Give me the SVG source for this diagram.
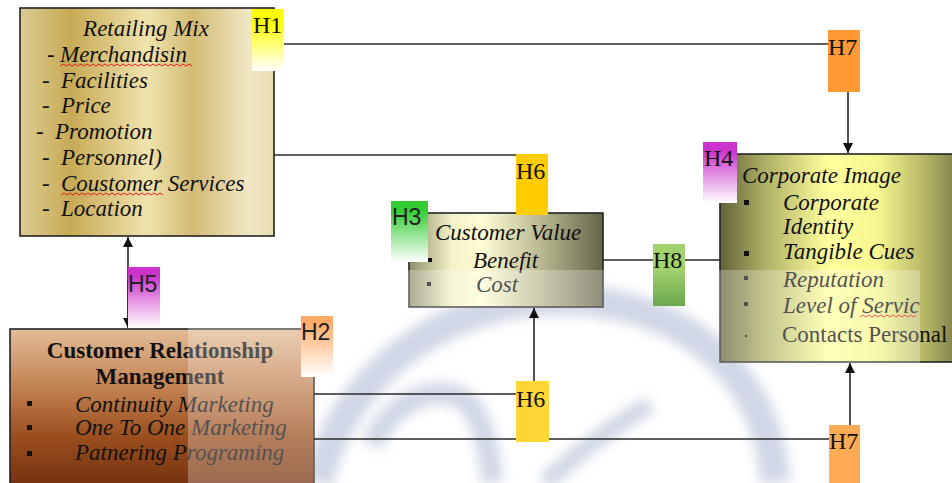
<svg xmlns="http://www.w3.org/2000/svg" width="952" height="483" viewBox="0 0 952 483">
<defs>
<style>
.bx{stroke:#222;stroke-width:1.6}
.t{font-family:"Liberation Serif","Times New Roman",serif;font-size:23px;fill:#111}
.i{font-style:italic}
.b{font-weight:bold}
.hs{font-family:"Liberation Serif","Times New Roman",serif;font-size:24px;fill:#111}
.hn{font-family:"Liberation Sans",Arial,sans-serif;font-size:23px;fill:#222}
.c{fill:none;stroke:#2a2a2a;stroke-width:1.6}
.sq{fill:none;stroke:#e02020;stroke-width:1}
.bu{fill:#111}
</style>
<linearGradient id="gGold" x1="0" y1="0" x2="1" y2="0">
<stop offset="0" stop-color="#dccb92"/>
<stop offset="0.2" stop-color="#c7aa55"/>
<stop offset="0.5" stop-color="#f0e3ae"/>
<stop offset="0.68" stop-color="#d3bb74"/>
<stop offset="0.9" stop-color="#f1e7c5"/>
<stop offset="1" stop-color="#e8dcb0"/>
</linearGradient>
<linearGradient id="gCV" x1="0" y1="0" x2="1" y2="0">
<stop offset="0" stop-color="#8e8e6c"/>
<stop offset="0.22" stop-color="#f4f2c6"/>
<stop offset="0.38" stop-color="#fffcd6"/>
<stop offset="0.68" stop-color="#b9b891"/>
<stop offset="1" stop-color="#65654a"/>
</linearGradient>
<linearGradient id="gCI" x1="720" y1="0" x2="960" y2="0" gradientUnits="userSpaceOnUse">
<stop offset="0" stop-color="#62623a"/>
<stop offset="0.18" stop-color="#acac64"/>
<stop offset="0.45" stop-color="#ffff9e"/>
<stop offset="0.66" stop-color="#f6f690"/>
<stop offset="0.86" stop-color="#b4b466"/>
<stop offset="1" stop-color="#7a7a48"/>
</linearGradient>
<linearGradient id="gCRM" x1="0" y1="329" x2="0" y2="483" gradientUnits="userSpaceOnUse">
<stop offset="0" stop-color="#e2bc96"/>
<stop offset="0.4" stop-color="#c07e4e"/>
<stop offset="0.7" stop-color="#9a4e1e"/>
<stop offset="1" stop-color="#783410"/>
</linearGradient>
<linearGradient id="fY" x1="0" y1="0" x2="0" y2="1"><stop offset="0.2" stop-color="#ffff00"/><stop offset="1" stop-color="#ffffff"/></linearGradient>
<linearGradient id="fG" x1="0" y1="0" x2="0" y2="1"><stop offset="0.15" stop-color="#33cc33"/><stop offset="1" stop-color="#ffffff"/></linearGradient>
<linearGradient id="fM" x1="0" y1="0" x2="0" y2="1"><stop offset="0.15" stop-color="#cc33cc"/><stop offset="1" stop-color="#ffffff"/></linearGradient>
<linearGradient id="fO" x1="0" y1="0" x2="0" y2="1"><stop offset="0.1" stop-color="#ffaa66"/><stop offset="1" stop-color="#ffffff"/></linearGradient>
<linearGradient id="fL" x1="0" y1="0" x2="0" y2="1"><stop offset="0.4" stop-color="#a3d16e"/><stop offset="1" stop-color="#6aa74c"/></linearGradient>
<filter id="blur" x="-20%" y="-20%" width="140%" height="140%"><feGaussianBlur stdDeviation="6"/></filter>
<marker id="ah" viewBox="0 0 10 10" refX="10" refY="5" markerWidth="10" markerHeight="10" markerUnits="userSpaceOnUse" orient="auto"><path d="M0,0 L10,5 L0,10 Z" fill="#111"/></marker>
</defs>
<rect width="952" height="483" fill="#ffffff"/>
<g id="watermark" filter="url(#blur)" fill="none" stroke="#aab6d2" opacity="0.75">
<path d="M318,483 C340,380 440,300 560,300 C690,300 770,380 775,483" stroke-width="30"/>
<path d="M372,445 C395,395 445,380 470,405 C485,425 490,455 492,483" stroke-width="22"/>
<path d="M545,483 C580,450 615,425 650,405" stroke-width="18"/>
</g>
<g id="retailing-mix">
<rect class="bx" x="20" y="8" width="254" height="228" fill="url(#gGold)"/>
<text class="t i" x="146" y="36" text-anchor="middle">Retailing Mix</text>
<text class="t i" x="47" y="62">-</text><text class="t i" x="60" y="62">Merchandisin</text>
<text class="t i" x="42" y="88">-</text><text class="t i" x="61" y="88">Facilities</text>
<text class="t i" x="42" y="113">-</text><text class="t i" x="61" y="113">Price</text>
<text class="t i" x="36" y="139">-</text><text class="t i" x="55" y="139">Promotion</text>
<text class="t i" x="42" y="165">-</text><text class="t i" x="61" y="165">Personnel)</text>
<text class="t i" x="42" y="191">-</text><text class="t i" x="61" y="191">Coustomer Services</text>
<text class="t i" x="42" y="216">-</text><text class="t i" x="61" y="216">Location</text>
<path class="sq" d="M60,66 l3,-2 l3,2 l3,-2 l3,2 l3,-2 l3,2 l3,-2 l3,2 l3,-2 l3,2 l3,-2 l3,2 l3,-2 l3,2 l3,-2 l3,2 l3,-2 l3,2 l3,-2 l3,2 l3,-2 l3,2 l3,-2 l3,2 l3,-2 l3,2 l3,-2 l3,2 l3,-2 l3,2 l3,-2 l3,2 l3,-2 l3,2 l3,-2 l3,2 l3,-2 l3,2 l3,-2 l3,2 l3,-2 l3,2 l3,-2 l3,2"/>
<path class="sq" d="M61,195 l3,-2 l3,2 l3,-2 l3,2 l3,-2 l3,2 l3,-2 l3,2 l3,-2 l3,2 l3,-2 l3,2 l3,-2 l3,2 l3,-2 l3,2 l3,-2 l3,2 l3,-2 l3,2 l3,-2 l3,2 l3,-2 l3,2 l3,-2 l3,2 l3,-2 l3,2 l3,-2 l3,2 l3,-2 l3,2 l3,-2 l3,2"/>
</g>
<g id="customer-value">
<rect class="bx" x="409" y="213" width="194" height="94" fill="url(#gCV)"/>
<text class="t i" x="435" y="240">Customer Value</text>
<rect class="bu" x="428" y="258" width="4" height="4"/>
<text class="t i" x="473" y="268">Benefit</text>
<rect class="bu" x="427" y="282" width="4" height="4"/>
<text class="t i" x="476" y="292">Cost</text>
</g>
<g id="corporate-image">
<rect class="bx" x="720" y="154" width="240" height="208" fill="url(#gCI)"/>
<text class="t i" x="742" y="183">Corporate Image</text>
<rect class="bu" x="744" y="200" width="5" height="5"/>
<text class="t i" x="783" y="210">Corporate</text>
<text class="t i" x="783" y="234">Identity</text>
<rect class="bu" x="744" y="251" width="5" height="5"/>
<text class="t i" x="783" y="259">Tangible Cues</text>
<rect class="bu" x="744" y="276" width="4" height="4"/>
<text class="t i" x="783" y="287">Reputation</text>
<rect class="bu" x="744" y="302" width="4" height="4"/>
<text class="t i" x="783" y="313">Level of Servic</text>
<path class="sq" d="M860,317 l3,-2 l3,2 l3,-2 l3,2 l3,-2 l3,2 l3,-2 l3,2 l3,-2 l3,2 l3,-2 l3,2 l3,-2 l3,2 l3,-2 l3,2 l3,-2 l3,2 l2,-2"/>
<rect class="bu" x="745" y="335" width="2" height="2"/>
<text class="t" x="782" y="342">Contacts Personal</text>
</g>
<g id="crm">
<rect class="bx" x="10" y="329" width="304" height="160" fill="url(#gCRM)"/>
<text class="t b" x="160" y="358" text-anchor="middle">Customer Relationship</text>
<text class="t b" x="160" y="384" text-anchor="middle">Management</text>
<rect class="bu" x="27" y="401" width="5" height="5"/>
<text class="t i" x="75" y="412">Continuity Marketing</text>
<rect class="bu" x="27" y="425" width="5" height="5"/>
<text class="t i" x="75" y="435">One To One Marketing</text>
<rect class="bu" x="27" y="451" width="5" height="5"/>
<text class="t i" x="75" y="460">Patnering Programing</text>
</g>
<rect id="overlay" x="188" y="270" width="732" height="213" fill="#ffffff" opacity="0.27"/>
<g id="connectors">
<path class="c" d="M284,44 H848 V153" marker-end="url(#ah)"/>
<path class="c" d="M274,155 H516"/>
<path class="c" d="M603,260 H720"/>
<path class="c" d="M128,318 V237" marker-end="url(#ah)"/>
<path class="c" d="M128,280 V328" marker-end="url(#ah)"/>
<path class="c" d="M314,394 H534 V308" marker-end="url(#ah)"/>
<path class="c" d="M314,439 H850 V363" marker-end="url(#ah)"/>
</g>
<g id="H1"><rect x="252" y="9" width="32" height="62" fill="url(#fY)"/><text class="hs" x="253" y="33">H1</text></g>
<g id="H7a"><rect x="828" y="30" width="32" height="62" fill="#ff9933"/><text class="hs" x="828" y="55">H7</text></g>
<g id="H6a"><rect x="516" y="154" width="32" height="61" fill="#ffcc00"/><text class="hs" x="516" y="179">H6</text></g>
<g id="H3"><rect x="391" y="201" width="37" height="61" fill="url(#fG)"/><text class="hn" x="392" y="225">H3</text></g>
<g id="H8"><rect x="653" y="244" width="32" height="62" fill="url(#fL)"/><text class="hs" x="653" y="268">H8</text></g>
<g id="H4"><rect x="703" y="142" width="34" height="61" fill="url(#fM)"/><text class="hs" x="704" y="166">H4</text></g>
<g id="H5"><rect x="128" y="267" width="32" height="61" fill="url(#fM)"/><text class="hn" x="128" y="292">H5</text></g>
<g id="H2"><rect x="301" y="316" width="32" height="61" fill="url(#fO)"/><text class="hn" x="301" y="340">H2</text></g>
<g id="H6b"><rect x="516" y="381" width="33" height="61" fill="#ffd633"/><text class="hs" x="516" y="407">H6</text></g>
<g id="H7b"><rect x="829" y="425" width="31" height="58" fill="#ffaa55"/><text class="hs" x="829" y="449">H7</text></g>
</svg>
